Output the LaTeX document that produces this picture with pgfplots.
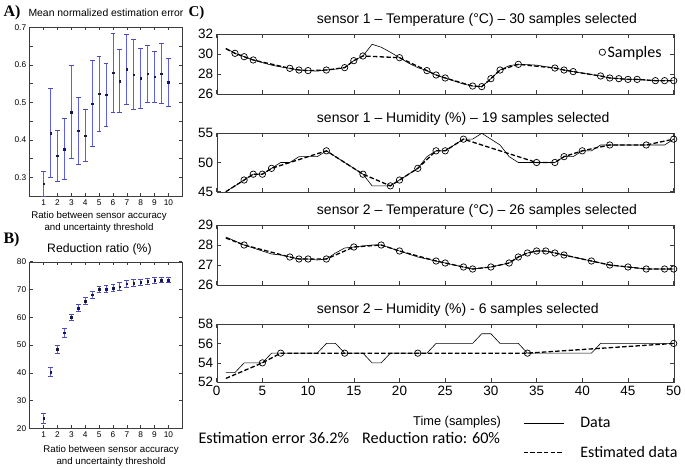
\documentclass[border=0pt]{standalone}
\usepackage{pgfplots}
\pgfplotsset{compat=1.18}
\usepackage{fontspec}
\setmainfont{Liberation Sans}
\newfontfamily\calibri{Carlito}
\newfontfamily\serifb{Liberation Serif}
\definecolor{errblue}{RGB}{95,95,225}
\definecolor{dotnavy}{RGB}{25,25,70}
\definecolor{framegray}{RGB}{60,60,60}

\pgfplotsset{
  fig/.style={scale only axis, anchor=south west,
    axis line style={framegray}, tick align=inside,
    tick style={framegray, line width=0.5pt},
    /pgf/number format/assume math mode=true},
  smallp/.style={fig, xmin=0, xmax=11, xtick={1,...,10},
    major tick length=3pt, minor tick length=3pt,
    tick label style={font=\fontsize{8.3}{9}\selectfont},
    title style={font=\fontsize{10.4}{12}\selectfont, anchor=base, inner sep=0pt},
    xlabel style={font=\fontsize{9.7}{12}\selectfont, align=center, anchor=north, inner sep=0pt}},
  errp/.style={only marks, mark=square*, mark size=0.8pt, color=dotnavy,
    error bars/.cd, y dir=both, y explicit,
    error bar style={errblue, line width=0.8pt},
    error mark options={rotate=90, errblue!80!black, line width=0.8pt, mark size=2.4pt}},
  sensp/.style={fig, xmin=0, xmax=50, xtick={0,5,...,50}, width=457pt,
    major tick length=4pt,
    tick label style={font=\fontsize{13.5}{15}\selectfont},
    title style={font=\fontsize{14}{16}\selectfont, at={(axis description cs:0.219,1)},
      anchor=base west, yshift=5pt, inner sep=0pt}},
  dataline/.style={black, line width=0.6pt, no markers},
  estline/.style={black, line width=1.3pt, dash pattern=on 4.5pt off 2.2pt, no markers},
  samp/.style={only marks, mark=o, mark size=3.2pt, black, mark options={line width=0.7pt}},
}

\begin{document}
\begin{tikzpicture}
\useasboundingbox (0pt,0pt) rectangle (685pt,467pt);

% panel labels
\node[anchor=west, font=\serifb\bfseries\fontsize{16}{18}\selectfont] at (0pt,454pt) {A)};
\node[anchor=west, font=\serifb\bfseries\fontsize{16}{18}\selectfont] at (0pt,227pt) {B)};
\node[anchor=west, font=\serifb\bfseries\fontsize{15}{18}\selectfont] at (185pt,454pt) {C)};

% A) mean normalized estimation error
\begin{axis}[smallp, at={(29.7pt,271pt)}, width=152.6pt, height=168.7pt,
  ymin=0.25, ymax=0.7, ytick={0.3,0.4,0.5,0.6,0.7},
  minor ytick={0.35,0.45,0.55,0.65},
  yticklabel style={/pgf/number format/fixed, /pgf/number format/precision=1},
  title={Mean normalized estimation error},
  title style={at={(axis description cs:0.5,1)}, yshift=4.5pt},
  xlabel={Ratio between sensor accuracy\\and uncertainty threshold},
  xlabel style={at={(axis description cs:0.454,0)}, yshift=-15pt}]
\addplot+[errp] coordinates {
  (1,0.283) +- (0,0.033)
  (1.5,0.418) +- (0,0.118)
  (2,0.357) +- (0,0.069)
  (2.5,0.375) +- (0,0.082)
  (3,0.474) +- (0,0.125)
  (3.5,0.424) +- (0,0.090)
  (4,0.411) +- (0,0.070)
  (4.5,0.496) +- (0,0.115)
  (5,0.523) +- (0,0.100)
  (5.5,0.520) +- (0,0.085)
  (6,0.579) +- (0,0.105)
  (6.5,0.557) +- (0,0.085)
  (7,0.588) +- (0,0.093)
  (7.5,0.574) +- (0,0.094)
  (8,0.564) +- (0,0.081)
  (8.5,0.576) +- (0,0.076)
  (9,0.568) +- (0,0.069)
  (9.5,0.576) +- (0,0.080)
  (10,0.553) +- (0,0.064)
};
\end{axis}

% B) reduction ratio
\begin{axis}[smallp, at={(29.7pt,38.7pt)}, width=152.6pt, height=166.6pt,
  ymin=20, ymax=80, ytick={20,30,...,80},
  title={Reduction ratio (\%)},
  title style={at={(axis description cs:0.457,1)}, yshift=3pt,
    font=\fontsize{12.2}{14}\selectfont},
  xlabel={Ratio between sensor accuracy\\and uncertainty threshold},
  xlabel style={at={(axis description cs:0.533,0)}, yshift=-17pt}]
\addplot+[errp] coordinates {
  (1,23.6) +- (0,1.7)
  (1.5,40.3) +- (0,1.7)
  (2,48.4) +- (0,1.3)
  (2.5,54.4) +- (0,1.7)
  (3,60.0) +- (0,1.0)
  (3.5,63.3) +- (0,1.2)
  (4,65.8) +- (0,1.2)
  (4.5,68.1) +- (0,1.2)
  (5,70.0) +- (0,1.0)
  (5.5,70.2) +- (0,1.3)
  (6,70.5) +- (0,1.3)
  (6.5,71.0) +- (0,1.5)
  (7,72.1) +- (0,1.3)
  (7.5,72.3) +- (0,1.2)
  (8,72.6) +- (0,1.2)
  (8.5,73.0) +- (0,1.0)
  (9,73.3) +- (0,1.0)
  (9.5,73.4) +- (0,1.0)
  (10,73.4) +- (0,1.0)
};
\end{axis}

% C1) sensor 1 temperature
\begin{axis}[sensp, at={(216.7pt,373pt)}, height=59.7pt,
  ymin=26, ymax=32, ytick={26,28,30,32}, xticklabel=\empty,
  title={sensor 1 -- Temperature (°C) -- 30 samples selected},
  legend style={at={(axis description cs:0.985,0.70)}, anchor=east, draw=none, fill=none,
    font=\calibri\fontsize{16}{18}\selectfont}, legend cell align=left]
\addplot[dataline, forget plot] coordinates {
  (1,30.6) (2,30.09) (3,29.75) (4,29.42) (5,29.15) (6,28.9) (7,28.72) (8,28.58)
  (9,28.41) (10,28.35) (11,28.3) (12,28.41) (13,28.5) (14,28.65) (15,29.35)
  (16,29.82) (17,31.0) (18,30.7) (19,30.2) (20,29.65) (21,29.1) (22,28.65)
  (23,28.35) (24,27.91) (25,27.61) (26,27.3) (27,27.0) (28,26.8) (29,26.74)
  (30,27.54) (31,28.41) (32,28.85) (33,28.98) (34,28.95) (35,28.9) (36,28.75)
  (37,28.61) (38,28.41) (39,28.25) (40,28.1) (41,27.95) (42,27.81) (43,27.61)
  (44,27.54) (45,27.47) (46,27.47) (47,27.4) (48,27.34) (49,27.34) (50,27.34)
};
\addplot[estline, forget plot] coordinates {
  (1,30.55) (2,30.09) (3,29.75) (4,29.42) (8,28.58) (9,28.41) (10,28.35) (12,28.41)
  (14,28.65) (15,29.35) (16,29.82) (20,29.65) (23,28.35) (24,27.91) (25,27.61)
  (28,26.80) (29,26.74) (30,27.54) (31,28.41) (33,28.98) (37,28.61) (38,28.41)
  (39,28.25) (42,27.81) (43,27.61) (44,27.54) (45,27.47) (46,27.47) (48,27.34)
  (49,27.34) (50,27.34)
};
\addplot[samp] coordinates {
  (2,30.09) (3,29.75) (4,29.42) (8,28.58) (9,28.41) (10,28.35) (12,28.41)
  (14,28.65) (15,29.35) (16,29.82) (20,29.65) (23,28.35) (24,27.91) (25,27.61)
  (28,26.80) (29,26.74) (30,27.54) (31,28.41) (33,28.98) (37,28.61) (38,28.41)
  (39,28.25) (42,27.81) (43,27.61) (44,27.54) (45,27.47) (46,27.47) (48,27.34)
  (49,27.34) (50,27.34)
};
\addlegendentry{Samples}
\end{axis}

% C2) sensor 1 humidity
\begin{axis}[sensp, at={(216.7pt,275.3pt)}, height=58.4pt,
  ymin=45, ymax=55, ytick={45,50,55}, xticklabel=\empty,
  title={sensor 1 -- Humidity (\%) -- 19 samples selected}]
\addplot[dataline] coordinates {
  (1,45) (2,46) (3,47) (4,48) (5,48) (6,49) (7,50) (8,50) (9,51) (10,51) (11,51)
  (12,52) (13,51) (14,50) (15,49) (16,48) (17,46) (18,46) (19,46) (20,47) (21,48)
  (22,49) (23,51) (24,52) (25,52) (26,53) (27,54) (28,54) (29,55) (30,54) (31,53)
  (32,51) (33,50) (34,50) (35,50) (36,50) (37,50) (38,51) (39,51) (40,52) (41,52)
  (42,53) (43,53) (44,53) (45,53) (46,53) (47,53) (48,53) (49,53) (50,54)
};
\addplot[estline] coordinates {
  (1,45) (3,47) (4,48) (5,48) (6,49) (12,52) (16,48) (19,46) (20,47) (22,49)
  (24,52) (25,52) (27,54) (35,50) (37,50) (38,51) (40,52) (43,53) (47,53) (50,54)
};
\addplot[samp] coordinates {
  (3,47) (4,48) (5,48) (6,49) (12,52) (16,48) (19,46) (20,47) (22,49)
  (24,52) (25,52) (27,54) (35,50) (37,50) (38,51) (40,52) (43,53) (47,53) (50,54)
};
\end{axis}

% C3) sensor 2 temperature
\begin{axis}[sensp, at={(216.7pt,182pt)}, height=60pt,
  ymin=26, ymax=29, ytick={26,27,28,29}, xticklabel=\empty,
  title={sensor 2 -- Temperature (°C) -- 26 samples selected}]
\addplot[dataline] coordinates {
  (1,28.4) (2,28.2) (3,28.0) (4,27.85) (5,27.7) (6,27.55) (7,27.5) (8,27.4)
  (9,27.3) (10,27.3) (11,27.25) (12,27.3) (13,27.6) (14,27.85) (15,27.9)
  (16,27.95) (17,28.0) (18,28.0) (19,27.85) (20,27.7) (21,27.55) (22,27.4)
  (23,27.3) (24,27.2) (25,27.1) (26,27.0) (27,26.9) (28,26.8) (29,26.85)
  (30,26.9) (31,27.0) (32,27.1) (33,27.4) (34,27.6) (35,27.7) (36,27.7)
  (37,27.6) (38,27.5) (39,27.4) (40,27.3) (41,27.2) (42,27.1) (43,27.0)
  (44,26.95) (45,26.9) (46,26.85) (47,26.8) (48,26.8) (49,26.8) (50,26.8)
};
\addplot[estline] coordinates {
  (1,28.35) (3,28.0) (8,27.4) (9,27.3) (10,27.3) (12,27.3) (15,27.9) (18,28.0)
  (20,27.7) (24,27.2) (25,27.1) (27,26.9) (28,26.8) (30,26.9) (32,27.1) (33,27.4)
  (34,27.6) (35,27.7) (36,27.7) (37,27.6) (38,27.5) (41,27.2) (43,27.0) (45,26.9)
  (47,26.8) (49,26.8) (50,26.8)
};
\addplot[samp] coordinates {
  (3,28.0) (8,27.4) (9,27.3) (10,27.3) (12,27.3) (15,27.9) (18,28.0)
  (20,27.7) (24,27.2) (25,27.1) (27,26.9) (28,26.8) (30,26.9) (32,27.1) (33,27.4)
  (34,27.6) (35,27.7) (36,27.7) (37,27.6) (38,27.5) (41,27.2) (43,27.0) (45,26.9)
  (47,26.8) (49,26.8) (50,26.8)
};
\end{axis}

% C4) sensor 2 humidity
\begin{axis}[sensp, at={(216.7pt,84.7pt)}, height=58.3pt,
  ymin=52, ymax=58, ytick={52,54,56,58},
  title={sensor 2 -- Humidity (\%) - 6 samples selected},
  xlabel={Time (samples)},
  xlabel style={at={(axis description cs:0.526,-0.69)}, anchor=center,
    font=\fontsize{12.8}{14}\selectfont},
  legend style={at={(axis description cs:0.670,-0.96)}, anchor=west, draw=none, fill=none,
    inner sep=0pt, row sep=13pt, font=\calibri\fontsize{16}{18}\selectfont,
    /tikz/every odd column/.append style={column sep=14pt}},
  legend cell align=left,
  legend image code/.code={\draw[#1] (0pt,0pt) -- (40pt,0pt);}]
\addplot[dataline] coordinates {
  (1,53) (2,53) (3,54) (4,54) (5,54) (6,55) (7,55) (8,55) (9,55) (10,55) (11,55)
  (12,56) (13,56) (14,55) (15,55) (16,55) (17,54) (18,54) (19,55) (20,55) (21,55)
  (22,55) (23,55) (24,56) (25,56) (26,56) (27,56) (28,56) (29,57) (30,57) (31,56)
  (32,56) (33,56) (34,55) (35,55) (36,55) (37,55) (38,55) (39,55) (40,55) (41,55)
  (42,56) (43,56) (44,56) (45,56) (46,56) (47,56) (48,56) (49,56) (50,56)
};
\addlegendentry{Data}
\addplot[estline] coordinates {
  (1,52.4) (5,54) (7,55) (14,55) (22,55) (34,55) (50,56)
};
\addlegendentry{Estimated data}
\addplot[samp, forget plot] coordinates {
  (5,54) (7,55) (14,55) (22,55) (34,55) (50,56)
};
\end{axis}

\node[anchor=west, font=\calibri\fontsize{16.2}{18}\selectfont] at (195pt,29.3pt)
  {Estimation error 36.2\%\hspace{13pt}Reduction ratio: 60\%};
\end{tikzpicture}
\end{document}
